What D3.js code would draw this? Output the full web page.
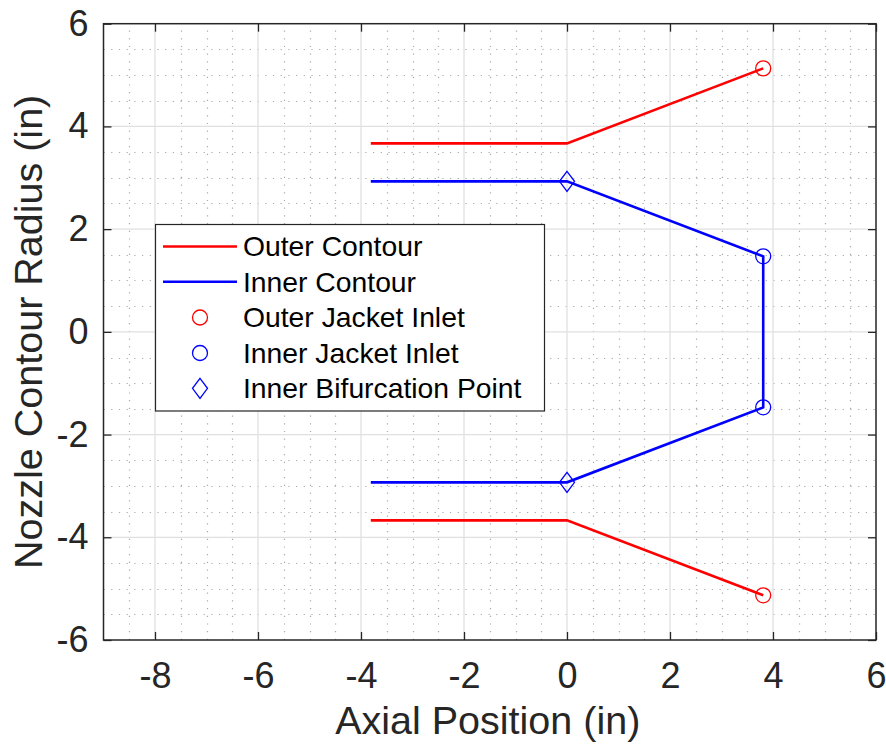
<!DOCTYPE html>
<html>
<head>
<meta charset="utf-8">
<script src="https://cdn.jsdelivr.net/npm/d3@7"></script>
<style>
  html, body { margin: 0; padding: 0; background: #fff; }
  svg { display: block; }
  text { font-family: "Liberation Sans", Arial, Helvetica, sans-serif; }
</style>
</head>
<body>
<svg id="chart" width="886" height="746"></svg>
<script>
// Nozzle contour geometry (inches)
const outerUpperX = [-3.81, 0, 3.81];
const outerUpperY = [3.67, 3.67, 5.13];
const outerLowerX = [-3.81, 0, 3.81];
const outerLowerY = [-3.67, -3.67, -5.13];
const innerX = [-3.81, 0, 3.81, 3.81, 0, -3.81];
const innerY = [2.93, 2.93, 1.47, -1.47, -2.93, -2.93];

const outerInletX = [3.81, 3.81];
const outerInletY = [5.13, -5.13];
const innerInletX = [3.81, 3.81];
const innerInletY = [1.47, -1.47];
const bifurcationX = [0, 0];
const bifurcationY = [2.93, -2.93];

const xDomain = [-9, 6];
const yDomain = [-6, 6];
const xTicks = [-8, -6, -4, -2, 0, 2, 4, 6];
const yTicks = [-6, -4, -2, 0, 2, 4, 6];
const minorStep = 0.5;

const legendLabels = ["Outer Contour", "Inner Contour", "Outer Jacket Inlet", "Inner Jacket Inlet", "Inner Bifurcation Point"];

const plotL = 103.5, plotR = 876, plotT = 23.7, plotB = 640;
const axisColor = "#262626";

const svg = d3.select("#chart");
const x = d3.scaleLinear().domain(xDomain).range([plotL, plotR]);
const y = d3.scaleLinear().domain(yDomain).range([plotB, plotT]);

const minorX = d3.range(xDomain[0], xDomain[1] + 1e-9, minorStep).filter(v => !xTicks.includes(v) && v !== xDomain[0] && v !== xDomain[1]);
const minorY = d3.range(yDomain[0], yDomain[1] + 1e-9, minorStep).filter(v => !yTicks.includes(v) && v !== yDomain[0] && v !== yDomain[1]);

// minor grid (dotted)
const gMinor = svg.append("g").attr("stroke", "#a9a9a9").attr("stroke-width", 1.2).attr("stroke-dasharray", "1.2,6.5");
gMinor.selectAll("line.mx").data(minorX).join("line")
  .attr("x1", d => Math.round(x(d)) + 0.5).attr("x2", d => Math.round(x(d)) + 0.5)
  .attr("y1", plotB).attr("y2", plotT);
gMinor.selectAll("line.my").data(minorY).join("line")
  .attr("y1", d => Math.round(y(d)) + 0.5).attr("y2", d => Math.round(y(d)) + 0.5)
  .attr("x1", plotL).attr("x2", plotR);

// major grid
const gMajor = svg.append("g").attr("stroke", "#e0e0e0").attr("stroke-width", 1.3);
gMajor.selectAll("line.gx").data(xTicks.filter(v => v !== xDomain[1])).join("line")
  .attr("x1", d => x(d)).attr("x2", d => x(d)).attr("y1", plotB).attr("y2", plotT);
gMajor.selectAll("line.gy").data(yTicks.filter(v => v !== yDomain[0] && v !== yDomain[1])).join("line")
  .attr("y1", d => y(d)).attr("y2", d => y(d)).attr("x1", plotL).attr("x2", plotR);

// axes with inward ticks on all four sides
const tickLen = 8;
const axisStyle = g => {
  g.select(".domain").remove();
  g.selectAll(".tick line").attr("stroke", axisColor).attr("stroke-width", 1.3);
  g.selectAll(".tick text").attr("fill", axisColor).attr("font-size", 36);
};
svg.append("g").attr("transform", `translate(0,${plotB})`)
  .call(d3.axisBottom(x).tickValues(xTicks).tickFormat(d3.format("d")).tickSizeInner(-tickLen).tickSizeOuter(0).tickPadding(22))
  .call(axisStyle);
svg.append("g").attr("transform", `translate(0,${plotT})`)
  .call(d3.axisTop(x).tickValues(xTicks).tickFormat("").tickSizeInner(-tickLen).tickSizeOuter(0))
  .call(axisStyle);
svg.append("g").attr("transform", `translate(${plotL},0)`)
  .call(d3.axisLeft(y).tickValues(yTicks).tickFormat(d3.format("d")).tickSizeInner(-tickLen).tickSizeOuter(0).tickPadding(15))
  .call(axisStyle);
svg.append("g").attr("transform", `translate(${plotR},0)`)
  .call(d3.axisRight(y).tickValues(yTicks).tickFormat("").tickSizeInner(-tickLen).tickSizeOuter(0))
  .call(axisStyle);

// use hyphen-minus for negative labels
svg.selectAll(".tick text").text(function() { return d3.select(this).text().replace("\u2212", "-"); });

// plot box
svg.append("rect").attr("x", plotL).attr("y", plotT).attr("width", plotR - plotL).attr("height", plotB - plotT)
  .attr("fill", "none").attr("stroke", axisColor).attr("stroke-width", 1.5);

// axis labels
svg.append("text").attr("x", (plotL + plotR) / 2 - 2).attr("y", 734).attr("text-anchor", "middle")
  .attr("font-size", 39.5).attr("fill", axisColor).text("Axial Position (in)");
svg.append("text").attr("transform", `translate(42,${(plotT + plotB) / 2}) rotate(-90)`).attr("text-anchor", "middle")
  .attr("font-size", 39.5).attr("fill", axisColor).text("Nozzle Contour Radius (in)");

// contour lines
const line = d3.line().x(d => x(d[0])).y(d => y(d[1]));
const pts = (xs, ys) => xs.map((v, i) => [v, ys[i]]);
const gData = svg.append("g").attr("fill", "none").attr("stroke-width", 2.6).attr("stroke-linejoin", "miter");
gData.append("path").attr("d", line(pts(outerUpperX, outerUpperY))).attr("stroke", "#ff0000");
gData.append("path").attr("d", line(pts(outerLowerX, outerLowerY))).attr("stroke", "#ff0000");
gData.append("path").attr("d", line(pts(innerX, innerY))).attr("stroke", "#0000ff");

// markers
const circleR = 7.5;
const diamond = (cx, cy) => `M${cx},${cy - 10}L${cx + 7.5},${cy}L${cx},${cy + 10}L${cx - 7.5},${cy}Z`;
const gMarks = svg.append("g").attr("fill", "none").attr("stroke-width", 1.3);
gMarks.selectAll("circle.oi").data(pts(outerInletX, outerInletY)).join("circle")
  .attr("cx", d => x(d[0])).attr("cy", d => y(d[1])).attr("r", circleR).attr("stroke", "#ff0000");
gMarks.selectAll("circle.ii").data(pts(innerInletX, innerInletY)).join("circle")
  .attr("cx", d => x(d[0])).attr("cy", d => y(d[1])).attr("r", circleR).attr("stroke", "#0000ff");
gMarks.selectAll("path.bp").data(pts(bifurcationX, bifurcationY)).join("path")
  .attr("d", d => diamond(x(d[0]), y(d[1]))).attr("stroke", "#0000ff");

// legend
const lg = svg.append("g");
lg.append("rect").attr("x", 155.5).attr("y", 224.5).attr("width", 389).attr("height", 186.5)
  .attr("fill", "#fff").attr("stroke", axisColor).attr("stroke-width", 1.2);
const rowY = [246.5, 281.8, 317.5, 353, 388.3];
const kinds = [
  { type: "line", color: "#ff0000" },
  { type: "line", color: "#0000ff" },
  { type: "circle", color: "#ff0000" },
  { type: "circle", color: "#0000ff" },
  { type: "diamond", color: "#0000ff" }
];
legendLabels.forEach((label, i) => {
  const ry = rowY[i], k = kinds[i];
  if (k.type === "line") {
    lg.append("line").attr("x1", 163).attr("x2", 237).attr("y1", ry).attr("y2", ry)
      .attr("stroke", k.color).attr("stroke-width", 2.6);
  } else if (k.type === "circle") {
    lg.append("circle").attr("cx", 200).attr("cy", ry).attr("r", circleR)
      .attr("fill", "none").attr("stroke", k.color).attr("stroke-width", 1.3);
  } else {
    lg.append("path").attr("d", diamond(200, ry)).attr("fill", "none")
      .attr("stroke", k.color).attr("stroke-width", 1.3);
  }
  lg.append("text").attr("x", 243).attr("y", ry).attr("dy", "0.35em")
    .attr("font-size", 28.3).attr("fill", "#000").text(label);
});
</script>
</body>
</html>
